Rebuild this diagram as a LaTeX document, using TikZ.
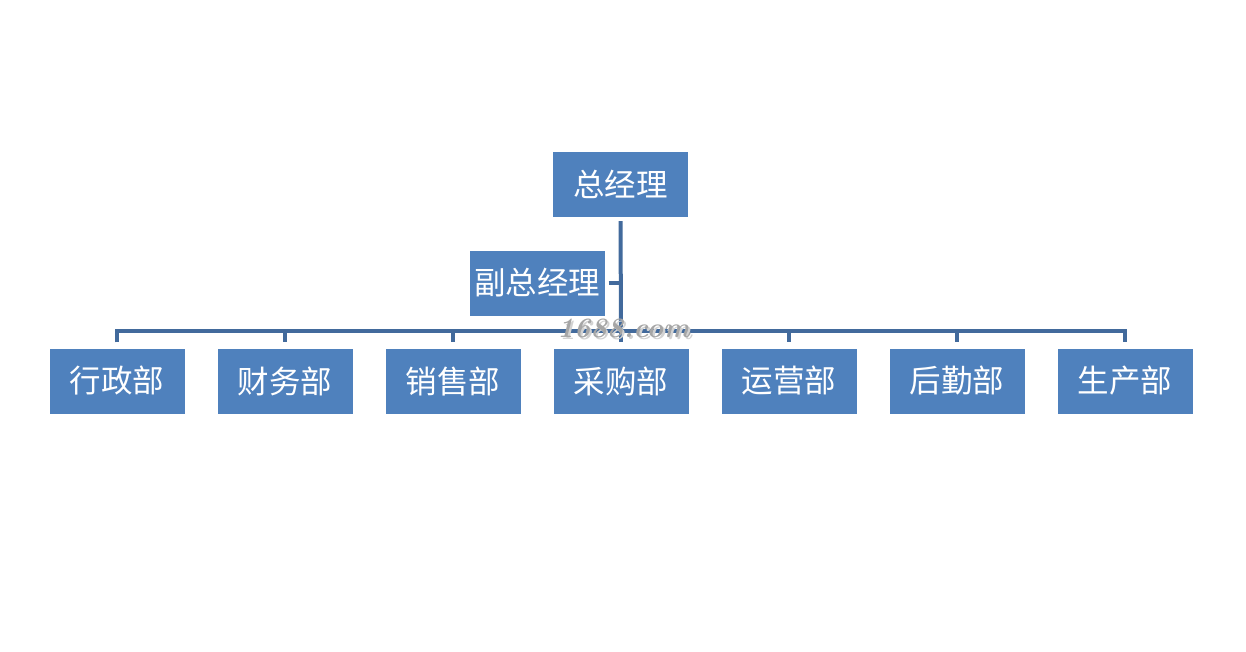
\documentclass[tikz,border=0pt]{standalone}
\usepackage{fontspec}
\newfontfamily\cjk{Noto Sans CJK SC}
\usepackage{tikz}
\usetikzlibrary{calc}
\definecolor{boxblue}{RGB}{79,129,189}
\definecolor{lineblue}{RGB}{66,106,156}

\begin{document}
\begin{tikzpicture}[x=1pt, y=-1pt,
    box/.style={fill=boxblue, text=white, minimum width=135pt, minimum height=65pt, inner sep=0pt, font=\cjk\fontsize{31.5}{36}\selectfont},
    link/.style={draw=lineblue, line width=4pt, line join=miter}]
      \useasboundingbox[fill=white] (0, 0) rectangle (1246, 651);
      \node[box] (gm) at (620.5, 184.5) {总经理};
      \node[box] (vgm) at (537, 283) {副总经理};
      \foreach \name [count=\i] in {行政部, 财务部, 销售部, 采购部, 运营部, 后勤部, 生产部} {
        \node[box] (d\i) at (117 + 168*\i - 168, 381) {\name};
      }
      \coordinate (bus) at (620.5, 331);
      \coordinate (gmfoot) at ($(gm.south) + (0, 4)$);
      \foreach \i in {1, ..., 7} {
        \coordinate (b\i) at (d\i.north |- bus);
        \coordinate (t\i) at ($(d\i.north) + (0, -6)$);
      }
      \path[link] (t1) -- (b1) -- (b7) -- (t7);
      \foreach \i in {2, ..., 6} {
        \path[link] (b\i) -- (t\i);
      }
      \path[link] (gmfoot) -- (b4);
      \path[link] ($(vgm.east) + (4, 0)$) -- (vgm.east -| gmfoot);
      \node[gray!35, font=\bfseries\itshape\fontsize{28}{28}\selectfont] (markshadow) at (625.5, 330.5) {1688.com};
      \node[gray!70, font=\bfseries\itshape\fontsize{28}{28}\selectfont] (mark) at (623.5, 328.5) {1688.com};
    \end{tikzpicture}
\end{document}
